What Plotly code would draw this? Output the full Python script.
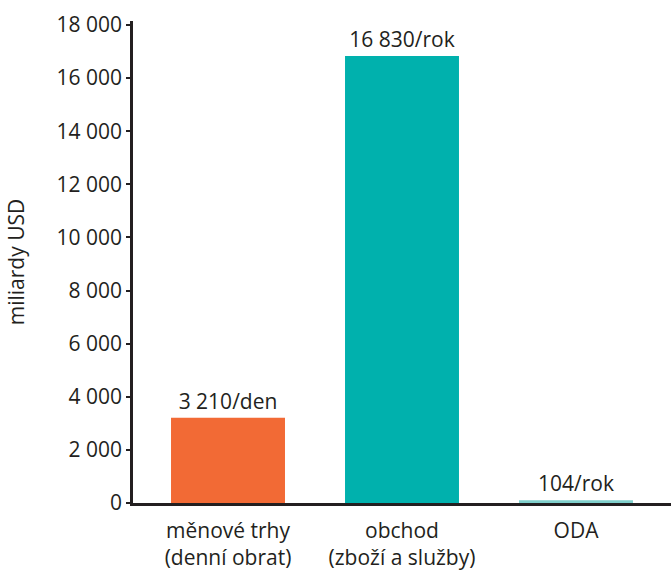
import plotly.graph_objects as go

# Global flows, billions of USD
categories = ["měnové trhy<br>(denní obrat)", "obchod<br>(zboží a služby)", "ODA"]
values = [3210, 16830, 104]
value_labels = ["3 210/den", "16 830/rok", "104/rok"]
bar_colors = ["#f26a35", "#00b1ad", "#7fcfcb"]
tick_values = [0, 2000, 4000, 6000, 8000, 10000, 12000, 14000, 16000, 18000]
tick_labels = ["0", "2 000", "4 000", "6 000", "8 000", "10 000", "12 000", "14 000", "16 000", "18 000"]

text_color = "#231f20"
font_family = "Open Sans, Noto Sans, sans-serif"
font_size = 21

fig = go.Figure(
    go.Bar(
        x=list(range(len(categories))),
        y=values,
        marker=dict(color=bar_colors, line=dict(width=0)),
        width=0.655,
        text=value_labels,
        textposition="outside",
        textfont=dict(size=font_size, color=text_color, family=font_family),
        constraintext="none",
        cliponaxis=False,
        hoverinfo="skip",
    )
)

fig.update_layout(
    width=671,
    height=570,
    margin=dict(l=133, r=0, t=21, b=67),
    paper_bgcolor="white",
    plot_bgcolor="white",
    showlegend=False,
    font=dict(family=font_family, size=font_size, color=text_color),
    xaxis=dict(
        range=[-0.546, 2.546],
        tickvals=list(range(len(categories))),
        ticktext=categories,
        showgrid=False,
        zeroline=False,
        showline=True,
        linecolor=text_color,
        linewidth=2.5,
        ticks="",
        ticklabelstandoff=7,
        automargin=False,
        tickfont=dict(size=font_size, color=text_color),
    ),
    yaxis=dict(
        range=[0, 18150],
        tickvals=tick_values,
        ticktext=tick_labels,
        showgrid=False,
        zeroline=False,
        showline=True,
        linecolor=text_color,
        linewidth=2.5,
        ticks="outside",
        ticklen=4,
        tickwidth=2,
        tickcolor=text_color,
        automargin=False,
        tickfont=dict(size=font_size, color=text_color),
        title=dict(text="miliardy USD", font=dict(size=font_size, color=text_color), standoff=27),
    ),
)

fig.write_html("out.html")
